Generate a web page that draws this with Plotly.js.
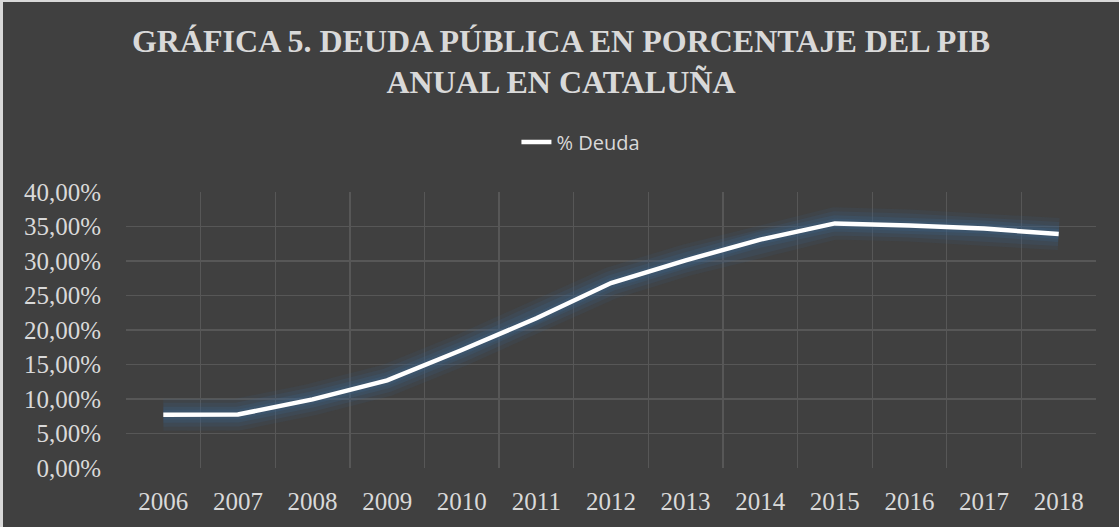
<!DOCTYPE html>
<html>
<head>
<meta charset="utf-8">
<script src="https://cdn.plot.ly/plotly-3.0.1.min.js"></script>
<style>
  html, body { margin: 0; padding: 0; background: #d9d9d9; width: 1119px; height: 527px; overflow: hidden; }
  #chart { position: absolute; left: 3px; top: 2px; width: 1116px; height: 525px; }
</style>
</head>
<body>
<div id="chart"></div>
<script>
const years = ['2006','2007','2008','2009','2010','2011','2012','2013','2014','2015','2016','2017','2018'];
const deuda = [0.077, 0.0775, 0.0995, 0.127, 0.171, 0.217, 0.268, 0.301, 0.331, 0.3545, 0.3515, 0.347, 0.339];
const seriesName = '% Deuda';
const titleText = 'GRÁFICA 5. DEUDA PÚBLICA EN PORCENTAJE DEL PIB<br>ANUAL EN CATALUÑA';

function glow(width, alpha) {
  return { x: years, y: deuda, type: 'scatter', mode: 'lines', showlegend: false, hoverinfo: 'skip',
    line: { color: 'rgba(60,100,140,' + alpha + ')', width: width, shape: 'linear' } };
}
const main = { x: years, y: deuda, type: 'scatter', mode: 'lines', name: seriesName,
  line: { color: '#ffffff', width: 4.5, shape: 'linear' } };

const layout = {
  width: 1116, height: 525,
  paper_bgcolor: '#404040', plot_bgcolor: '#404040',
  separators: ',.',
  margin: { l: 123, r: 23, t: 190, b: 59 },
  title: { text: titleText, x: 0.5, xanchor: 'center', yref: 'container', y: 0.905, yanchor: 'top',
    font: { family: 'Liberation Serif, Times New Roman, serif', size: 32, color: '#d9d9d9', weight: 'bold' } },
  showlegend: true,
  legend: { orientation: 'h', x: 0.469, xanchor: 'center', y: 1.181, yanchor: 'middle',
    font: { family: 'Open Sans, sans-serif', size: 20, color: '#d9d9d9' }, bgcolor: 'rgba(0,0,0,0)' },
  xaxis: { type: 'category', range: [-0.5, 12.5], tickson: 'boundaries', showgrid: true, gridcolor: '#575757', gridwidth: 1.3,
    showline: false, zeroline: false, ticks: '', ticklabelstandoff: 16,
    tickfont: { family: 'Liberation Serif, Times New Roman, serif', size: 25, color: '#d9d9d9' } },
  yaxis: { range: [0, 0.4], dtick: 0.05, tickformat: '.2%', showgrid: true, gridcolor: '#575757', gridwidth: 1.3,
    zeroline: false, showline: false, ticks: '', ticklabelstandoff: 24,
    tickfont: { family: 'Liberation Serif, Times New Roman, serif', size: 25, color: '#d9d9d9' } }
};

Plotly.newPlot('chart', [glow(32, 0.12), glow(24, 0.16), glow(16, 0.22), glow(10, 0.25), main], layout,
  { displayModeBar: false, staticPlot: true });
</script>
</body>
</html>
